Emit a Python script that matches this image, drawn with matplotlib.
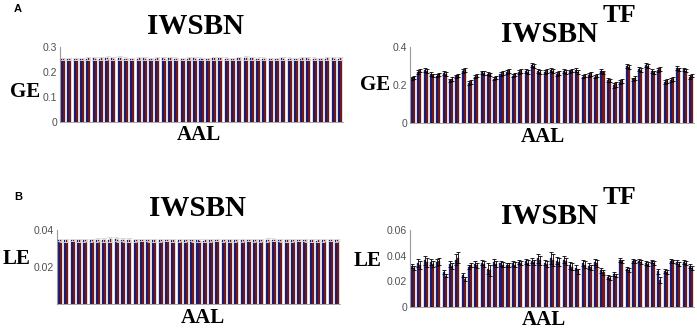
import matplotlib
matplotlib.use("Agg")
import matplotlib.pyplot as plt
import numpy as np

# ---------------- data ----------------
n_regions = 45
groups = np.arange(1, n_regions + 1)

ge_iwsbn_blue = [0.252,0.253,0.252,0.253,0.254,0.255,0.254,0.256,0.255,0.257,0.254,0.253,0.254,0.255,0.253,
                 0.254,0.255,0.256,0.254,0.253,0.254,0.255,0.254,0.253,0.255,0.256,0.254,0.252,0.255,0.257,
                 0.256,0.253,0.254,0.252,0.253,0.255,0.254,0.253,0.254,0.255,0.254,0.253,0.254,0.255,0.254]
ge_iwsbn_red  = [0.253,0.252,0.253,0.254,0.255,0.254,0.255,0.257,0.254,0.256,0.253,0.254,0.255,0.254,0.254,
                 0.255,0.254,0.255,0.253,0.254,0.255,0.254,0.253,0.254,0.256,0.255,0.253,0.253,0.256,0.256,
                 0.255,0.254,0.253,0.253,0.254,0.254,0.253,0.254,0.255,0.254,0.253,0.254,0.255,0.254,0.255]
ge_iwsbn_err  = [0.004,0.004,0.005,0.004,0.005,0.006,0.005,0.006,0.005,0.007,0.005,0.004,0.005,0.006,0.004,
                 0.005,0.006,0.006,0.005,0.004,0.005,0.006,0.005,0.004,0.006,0.006,0.005,0.004,0.006,0.007,
                 0.006,0.005,0.005,0.004,0.004,0.005,0.005,0.004,0.005,0.006,0.005,0.004,0.005,0.005,0.005]

ge_tf_blue = [0.236,0.268,0.280,0.258,0.250,0.262,0.224,0.246,0.272,0.210,0.244,0.266,0.260,0.234,0.256,
              0.270,0.250,0.268,0.272,0.304,0.274,0.268,0.278,0.258,0.274,0.272,0.278,0.244,0.252,0.244,
              0.272,0.228,0.198,0.216,0.300,0.230,0.286,0.304,0.272,0.278,0.216,0.226,0.288,0.282,0.244]
ge_tf_red  = [0.240,0.276,0.272,0.252,0.256,0.258,0.232,0.252,0.278,0.216,0.248,0.262,0.256,0.240,0.262,
              0.274,0.256,0.274,0.268,0.298,0.268,0.274,0.272,0.264,0.268,0.276,0.270,0.250,0.258,0.250,
              0.266,0.224,0.204,0.222,0.294,0.236,0.280,0.298,0.266,0.284,0.222,0.230,0.282,0.276,0.250]
ge_tf_err  = [0.008,0.010,0.010,0.008,0.008,0.010,0.009,0.008,0.010,0.009,0.008,0.010,0.009,0.009,0.010,
              0.010,0.009,0.010,0.010,0.011,0.010,0.009,0.010,0.009,0.010,0.009,0.010,0.009,0.010,0.009,
              0.010,0.010,0.012,0.010,0.010,0.009,0.010,0.011,0.010,0.010,0.012,0.010,0.010,0.010,0.010]

le_iwsbn_blue = [0.0345,0.0344,0.0346,0.0345,0.0344,0.0345,0.0346,0.0347,0.0348,0.0349,0.0347,0.0346,0.0345,0.0346,0.0345,
                 0.0344,0.0345,0.0346,0.0345,0.0344,0.0345,0.0346,0.0344,0.0343,0.0345,0.0346,0.0344,0.0345,0.0344,0.0345,
                 0.0346,0.0344,0.0345,0.0346,0.0347,0.0345,0.0344,0.0345,0.0346,0.0345,0.0344,0.0343,0.0345,0.0346,0.0345]
le_iwsbn_red  = [0.0344,0.0345,0.0345,0.0344,0.0345,0.0346,0.0347,0.0348,0.0349,0.0348,0.0346,0.0347,0.0346,0.0345,0.0344,
                 0.0345,0.0346,0.0345,0.0344,0.0345,0.0346,0.0345,0.0343,0.0344,0.0346,0.0345,0.0345,0.0344,0.0345,0.0346,
                 0.0345,0.0345,0.0346,0.0347,0.0346,0.0344,0.0345,0.0346,0.0345,0.0344,0.0345,0.0344,0.0346,0.0345,0.0346]
le_iwsbn_err  = [0.0007,0.0008,0.0007,0.0008,0.0007,0.0008,0.0009,0.0011,0.0012,0.0011,0.0009,0.0010,0.0008,0.0007,0.0007,
                 0.0008,0.0008,0.0007,0.0008,0.0007,0.0008,0.0008,0.0007,0.0007,0.0008,0.0007,0.0007,0.0008,0.0007,0.0008,
                 0.0007,0.0007,0.0008,0.0009,0.0008,0.0007,0.0008,0.0008,0.0007,0.0007,0.0008,0.0007,0.0008,0.0007,0.0008]

le_tf_blue = [0.0320,0.0345,0.0365,0.0350,0.0348,0.0270,0.0335,0.0370,0.0250,0.0315,0.0335,0.0345,0.0300,0.0350,0.0340,
              0.0325,0.0340,0.0348,0.0355,0.0362,0.0378,0.0345,0.0380,0.0362,0.0370,0.0325,0.0305,0.0345,0.0320,0.0350,
              0.0285,0.0235,0.0255,0.0365,0.0300,0.0360,0.0362,0.0345,0.0355,0.0280,0.0280,0.0360,0.0348,0.0350,0.0320]
le_tf_red  = [0.0305,0.0330,0.0350,0.0335,0.0355,0.0245,0.0320,0.0385,0.0215,0.0325,0.0325,0.0335,0.0285,0.0335,0.0330,
              0.0330,0.0330,0.0340,0.0345,0.0350,0.0365,0.0335,0.0365,0.0350,0.0355,0.0315,0.0280,0.0330,0.0310,0.0340,
              0.0270,0.0225,0.0245,0.0355,0.0290,0.0355,0.0350,0.0335,0.0345,0.0210,0.0275,0.0355,0.0335,0.0340,0.0305]
le_tf_err  = [0.0015,0.0030,0.0035,0.0025,0.0025,0.0015,0.0020,0.0040,0.0015,0.0015,0.0020,0.0020,0.0040,0.0025,0.0020,
              0.0015,0.0020,0.0015,0.0020,0.0020,0.0035,0.0020,0.0045,0.0030,0.0030,0.0025,0.0020,0.0025,0.0020,0.0025,
              0.0020,0.0015,0.0015,0.0015,0.0015,0.0015,0.0015,0.0015,0.0015,0.0020,0.0015,0.0015,0.0015,0.0015,0.0015]

# ---------------- style ----------------
BLUE = "#1e1e86"
RED = "#7e1a1a"
SERIF = ["Liberation Serif", "DejaVu Serif"]
SANS = ["Liberation Sans", "DejaVu Sans"]
W, H = 697, 329

fig = plt.figure(figsize=(W / 100, H / 100), dpi=100)


def fx(px):
    return px / W


def fy(py):
    return 1 - py / H


def panel(rect, blue, red, err, ylim, yticks, yticklabels, ecolor):
    ax = fig.add_axes(rect)
    bw = 0.32
    ax.bar(groups - bw / 2, blue, width=bw, color=BLUE, edgecolor="#101030", linewidth=0.2)
    ax.bar(groups + bw / 2, red, width=bw, color=RED, edgecolor="#301010", linewidth=0.2)
    ax.errorbar(groups - bw / 2, blue, yerr=err, fmt="none", ecolor=ecolor, elinewidth=0.6, capsize=1.2, capthick=0.6)
    ax.errorbar(groups + bw / 2, red, yerr=err, fmt="none", ecolor=ecolor, elinewidth=0.6, capsize=1.2, capthick=0.6)
    ax.set_xlim(0.5, n_regions + 0.5)
    ax.set_ylim(*ylim)
    ax.set_xticks([])
    ax.set_yticks(yticks)
    ax.set_yticklabels(yticklabels, fontsize=7.5, family=SANS, color="#505050")
    ax.tick_params(axis="y", length=0, pad=2)
    for s in ("top", "right"):
        ax.spines[s].set_visible(False)
    ax.spines["left"].set_color("#9a9a9a")
    ax.spines["left"].set_linewidth(0.8)
    ax.spines["bottom"].set_color("#9a9a9a")
    ax.spines["bottom"].set_linewidth(0.6)
    ax.patch.set_alpha(0)
    return ax


# Panel A left
panel([fx(60), fy(122), fx(283), (122 - 47) / H], ge_iwsbn_blue, ge_iwsbn_red, ge_iwsbn_err,
      (0, 0.3), [0, 0.1, 0.2, 0.3], ["0", "0.1", "0.2", "0.3"], "#d8d8d8")
# Panel A right
panel([fx(410), fy(123), fx(284), (123 - 47) / H], ge_tf_blue, ge_tf_red, ge_tf_err,
      (0, 0.4), [0, 0.2, 0.4], ["0", "0.2", "0.4"], "black")
# Panel B left
panel([fx(57), fy(304), fx(283), (304 - 230) / H], le_iwsbn_blue, le_iwsbn_red, le_iwsbn_err,
      (0, 0.04), [0.02, 0.04], ["0.02", "0.04"], "#d8d8d8")
# Panel B right
panel([fx(410), fy(307), fx(284), (307 - 230) / H], le_tf_blue, le_tf_red, le_tf_err,
      (0, 0.06), [0, 0.02, 0.04, 0.06], ["0", "0.02", "0.04", "0.06"], "black")

title_kw = dict(family=SERIF, fontweight="bold", fontsize=21, ha="center", va="center")
lab_kw = dict(family=SERIF, fontweight="bold", fontsize=15, ha="center", va="center")

# titles
fig.text(fx(195), fy(27), "IWSBN", **title_kw)
fig.text(fx(550), fy(35), "IWSBN", **title_kw)
fig.text(fx(619), fy(16), "TF", family=SERIF, fontweight="bold", fontsize=19, ha="center", va="center")
fig.text(fx(198), fy(208), "IWSBN", **title_kw)
fig.text(fx(550), fy(217), "IWSBN", **title_kw)
fig.text(fx(619), fy(197), "TF", family=SERIF, fontweight="bold", fontsize=19, ha="center", va="center")

# y labels
fig.text(fx(25), fy(92), "GE", **lab_kw)
fig.text(fx(375), fy(85), "GE", **lab_kw)
fig.text(fx(17), fy(259), "LE", **lab_kw)
fig.text(fx(368), fy(261), "LE", **lab_kw)

# x labels
fig.text(fx(199), fy(135), "AAL", **lab_kw)
fig.text(fx(543), fy(137), "AAL", **lab_kw)
fig.text(fx(203), fy(318), "AAL", **lab_kw)
fig.text(fx(544), fy(320), "AAL", **lab_kw)

# panel letters
fig.text(fx(18), fy(9), "A", family=SANS, fontweight="bold", fontsize=8, ha="center", va="center")
fig.text(fx(18), fy(197), "B", family=SANS, fontweight="bold", fontsize=8, ha="center", va="center")

fig.savefig("out.png", dpi=100)
